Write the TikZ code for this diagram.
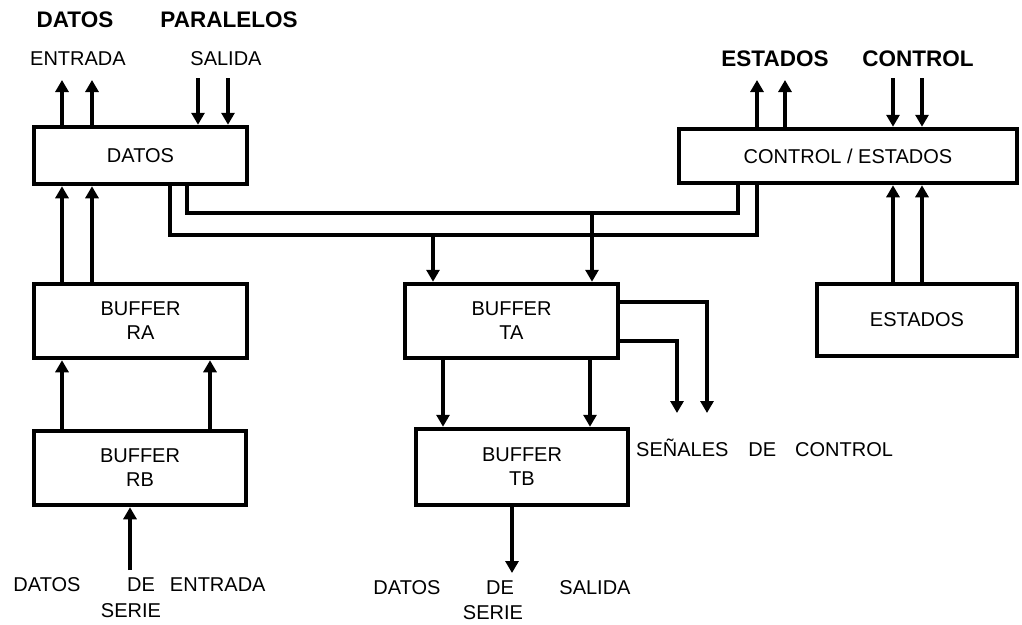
\documentclass[tikz,border=0pt]{standalone}
\usepackage{fontspec}
\setmainfont{Liberation Sans}
\usetikzlibrary{arrows.meta}
\newcommand\lblfont{\fontsize{20}{24}\selectfont}
\newcommand\bigfont{\fontsize{22.5}{26}\selectfont\bfseries}
\begin{document}
\begin{tikzpicture}[x=1pt,y=-1pt,
  box/.style 2 args={draw,line width=4.5pt,minimum width=#1,minimum height=#2,inner sep=0pt,align=center,font=\lblfont},
  conn/.style={line width=3.5pt},
  arr/.style={line width=3.5pt,-{Triangle[length=12pt,width=13pt]}},
  lbl/.style={inner sep=0pt,font=\lblfont},
  big/.style={inner sep=0pt,font=\bigfont}]
\useasboundingbox (0,0) rectangle (1022,624);
% boxes
\node[box={213}{57}] (datos) at (140.5,155.5) {DATOS};
\node[box={338}{54}] (ctrl) at (848,156) {CONTROL / ESTADOS};
\node[box={213}{74}] (ra) at (140.5,321) {BUFFER\\RA};
\node[box={212}{74}] (rb) at (140,468) {BUFFER\\RB};
\node[box={213}{74}] (ta) at (511.5,321) {BUFFER\\TA};
\node[box={212}{76}] (tb) at (522,467) {BUFFER\\TB};
\node[box={200}{72}] (est) at (917,320) {ESTADOS};
% free ends and columns
\coordinate (e1) at (62,80);
\coordinate (e2) at (92,80);
\coordinate (s1) at (198,78);
\coordinate (s2) at (228,78);
\coordinate (st1) at (757,80);
\coordinate (st2) at (785,80);
\coordinate (c1) at (893,78);
\coordinate (c2) at (922,78);
\coordinate (bi1) at (187,213);
\coordinate (bi2) at (738,213);
\coordinate (bo1) at (170,235);
\coordinate (bo2) at (757,235);
\coordinate (t1) at (433,235);
\coordinate (t2) at (592,213);
\coordinate (r2) at (210,400);
\coordinate (k1) at (443,400);
\coordinate (k2) at (590,400);
\coordinate (sin) at (130,570);
\coordinate (sout) at (512,573);
\coordinate (g1) at (707,302);
\coordinate (g2) at (677,341);
\coordinate (sg1) at (707,413);
\coordinate (sg2) at (677,413);
% parallel data
\draw[arr] (datos.north -| e1) -- (e1);
\draw[arr] (datos.north -| e2) -- (e2);
\draw[arr] (s1) -- (datos.north -| s1);
\draw[arr] (s2) -- (datos.north -| s2);
% control / estados
\draw[arr] (ctrl.north -| st1) -- (st1);
\draw[arr] (ctrl.north -| st2) -- (st2);
\draw[arr] (c1) -- (ctrl.north -| c1);
\draw[arr] (c2) -- (ctrl.north -| c2);
% buses
\draw[conn] (datos.south -| bi1) -- (bi1) -- (bi2) -- (ctrl.south -| bi2);
\draw[conn] (datos.south -| bo1) -- (bo1) -- (bo2) -- (ctrl.south -| bo2);
\draw[arr] (t1) -- (ta.north -| t1);
\draw[arr] (t2) -- (ta.north -| t2);
% receive side
\draw[arr] (ra.north -| e1) -- (datos.south -| e1);
\draw[arr] (ra.north -| e2) -- (datos.south -| e2);
\draw[arr] (rb.north -| e1) -- (ra.south -| e1);
\draw[arr] (rb.north -| r2) -- (ra.south -| r2);
\draw[arr] (sin) -- (rb.south -| sin);
% transmit side
\draw[arr] (ta.south -| k1) -- (tb.north -| k1);
\draw[arr] (ta.south -| k2) -- (tb.north -| k2);
\draw[arr] (tb.south -| sout) -- (sout);
\draw[arr] (ta.east |- g1) -- (g1) -- (sg1);
\draw[arr] (ta.east |- g2) -- (g2) -- (sg2);
% estados
\draw[arr] (est.north -| c1) -- (ctrl.south -| c1);
\draw[arr] (est.north -| c2) -- (ctrl.south -| c2);
% labels
\node[big] (lpdatos) at (75,20) {DATOS};
\node[big] (lparal) at (229,20) {PARALELOS};
\node[lbl] (lent) at (78,59) {ENTRADA};
\node[lbl] (lsal) at (226,59) {SALIDA};
\node[big] (lest) at (775,59) {ESTADOS};
\node[big] (lctrl) at (918,59) {CONTROL};
\node[lbl,anchor=west] (lsen) at (636,448) {SEÑALES\hspace{20pt}DE\hspace{19pt}CONTROL};
\node[lbl] (lsd1) at (47,585) {DATOS};
\node[lbl,anchor=west] (lsd2) at (127,585) {DE\hspace{15pt}ENTRADA};
\node[lbl] (lsd3) at (131,611) {SERIE};
\node[lbl] (lso1) at (407,588) {DATOS};
\node[lbl] (lso2) at (500,588) {DE};
\node[lbl] (lso3) at (595,588) {SALIDA};
\node[lbl] (lso4) at (493,613) {SERIE};
\end{tikzpicture}
\end{document}
